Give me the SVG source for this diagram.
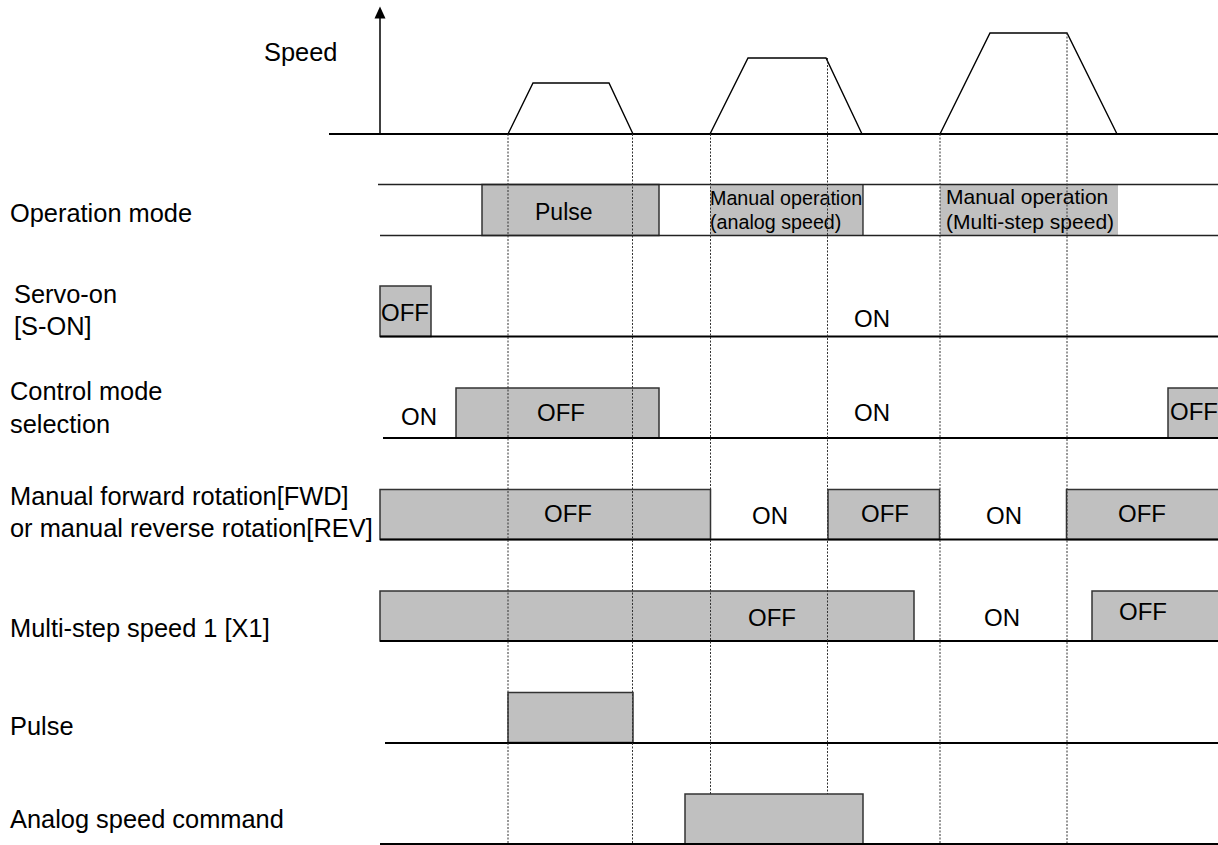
<svg xmlns="http://www.w3.org/2000/svg" width="1218" height="845" viewBox="0 0 1218 845">
<style>
text{font-family:"Liberation Sans",Arial,sans-serif;fill:#000}
.lbl{font-size:25.4px}
.st{font-size:24px}
.box{fill:#c0c0c0;stroke:#333;stroke-width:1.5}
.fill{fill:#c0c0c0;stroke:none}
.base{stroke:#000;stroke-width:2.2;fill:none}
.thin{stroke:#222;stroke-width:1.3;fill:none}
.wave{stroke:#000;stroke-width:1.4;fill:none}
.guide{stroke:#333;stroke-width:1;stroke-dasharray:2 1.5;fill:none}
</style>

<g id="speed">
<text class="lbl" x="264" y="61">Speed</text>
<line x1="380" y1="134" x2="380" y2="18" stroke="#000" stroke-width="1.5"/>
<path d="M380,6.5 L385.5,18.5 L374.5,18.5 Z" fill="#000"/>
<line class="base" x1="329" y1="134" x2="1218" y2="134"/>
<polyline class="wave" points="508,134 533,83 609,83 633,134"/>
<polyline class="wave" points="710,134 748,58 826,58 862,134"/>
<polyline class="wave" points="940,134 990,33 1067,33 1117,134"/>
</g>

<g id="operation-mode">
<text class="lbl" x="10" y="222">Operation mode</text>
<rect class="box" x="482" y="184.5" width="177" height="51"/>
<rect class="fill" x="710" y="184.5" width="153" height="51"/>
<line class="thin" x1="863" y1="184.5" x2="863" y2="235.5"/>
<rect class="fill" x="940" y="184.5" width="178" height="51"/>
<line class="thin" x1="378" y1="184.5" x2="1218" y2="184.5"/>
<line class="thin" x1="380" y1="235.5" x2="1218" y2="235.5"/>
<text x="535" y="220" font-size="23">Pulse</text>
<text x="710" y="205" font-size="19.7">Manual operation</text>
<text x="710" y="229" font-size="19.7">(analog speed)</text>
<text x="946" y="204" font-size="21">Manual operation</text>
<text x="946" y="229" font-size="21">(Multi-step speed)</text>
</g>

<g id="servo-on">
<text class="lbl" x="14" y="303">Servo-on</text>
<text class="lbl" x="14" y="335">[S-ON]</text>
<rect class="box" x="380" y="286" width="51" height="50.5"/>
<line class="base" x1="380" y1="336.5" x2="1218" y2="336.5"/>
<text class="st" x="381" y="320.5">OFF</text>
<text class="st" x="854" y="327">ON</text>
</g>

<g id="control-mode">
<text class="lbl" x="10" y="400">Control mode</text>
<text class="lbl" x="10" y="433">selection</text>
<rect class="box" x="456" y="388" width="203" height="50"/>
<rect class="box" x="1168" y="388" width="52" height="50"/>
<line class="base" x1="383" y1="438" x2="1218" y2="438"/>
<text class="st" x="401" y="425">ON</text>
<text class="st" x="537" y="421">OFF</text>
<text class="st" x="854" y="421">ON</text>
<text class="st" x="1170" y="420">OFF</text>
</g>

<g id="fwd-rev">
<text class="lbl" x="10" y="505">Manual forward rotation[FWD]</text>
<text class="lbl" x="10" y="537">or manual reverse rotation[REV]</text>
<rect class="box" x="380" y="489.5" width="330.5" height="50"/>
<rect class="box" x="828" y="489.5" width="111.5" height="50"/>
<rect class="box" x="1066.5" y="489.5" width="153" height="50"/>
<line class="base" x1="380" y1="539.5" x2="1218" y2="539.5"/>
<text class="st" x="544" y="522">OFF</text>
<text class="st" x="752" y="524">ON</text>
<text class="st" x="861" y="522">OFF</text>
<text class="st" x="986" y="524">ON</text>
<text class="st" x="1118" y="522">OFF</text>
</g>

<g id="multi-step-x1">
<text class="lbl" x="10" y="637">Multi-step speed 1 [X1]</text>
<rect class="box" x="380" y="591" width="534" height="50"/>
<rect class="box" x="1092" y="591" width="128" height="50"/>
<line class="base" x1="380" y1="641" x2="1218" y2="641"/>
<text class="st" x="748" y="626">OFF</text>
<text class="st" x="984" y="626">ON</text>
<text class="st" x="1119" y="620">OFF</text>
</g>

<g id="pulse">
<text class="lbl" x="10" y="735">Pulse</text>
<rect class="box" x="508" y="692.5" width="125" height="50"/>
<line class="base" x1="385" y1="743" x2="1218" y2="743"/>
</g>

<g id="connectors">
<line class="guide" x1="508" y1="134" x2="508" y2="845"/>
<line class="guide" x1="632.5" y1="134" x2="632.5" y2="845"/>
<line class="guide" x1="710.5" y1="134" x2="710.5" y2="845"/>
<line class="guide" x1="827.5" y1="58" x2="827.5" y2="845"/>
<line class="guide" x1="940" y1="134" x2="940" y2="845"/>
<line class="guide" x1="1067" y1="33" x2="1067" y2="845"/>
</g>

<g id="analog-speed">
<text class="lbl" x="10" y="828">Analog speed command</text>
<rect class="box" x="685" y="794" width="178" height="50"/>
<line class="base" x1="380" y1="844" x2="1218" y2="844"/>
</g>
</svg>
